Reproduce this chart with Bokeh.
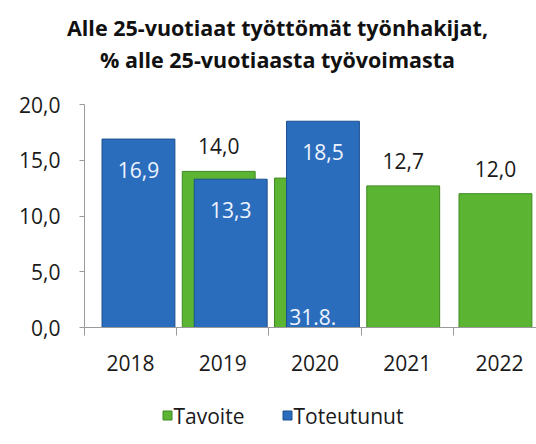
import numpy as np
from bokeh.plotting import figure
from bokeh.layouts import column
from bokeh.models import ColumnDataSource, Range1d, FixedTicker
from bokeh.core.properties import value
from bokeh.embed import file_html
from bokeh.resources import INLINE

# ---- data ----
years = ["2018", "2019", "2020", "2021", "2022"]
tavoite = [None, 14.0, 13.4, 12.7, 12.0]
toteutunut = [16.9, 13.3, 18.5, None, None]
stray_labels = ["", "", "31.8.", "", ""]
y_ticks = [0, 5, 10, 15, 20]
title_lines = ["Alle 25-vuotiaat työttömät työnhakijat,", "% alle 25-vuotiaasta työvoimasta"]
series_names = ["Tavoite", "Toteutunut"]

FONT = "Open Sans"
GREEN = "#5cb532"
GREEN_LINE = "#3e8a20"
BLUE = "#2b6dbd"
BLUE_LINE = "#1c4f8f"
AXIS = "#9a9a9a"
TXT = "#1a1a1a"
W_PX = 536
LEFT = 84

def fmt(v):
    return f"{v:.1f}".replace(".", ",")

def blank(fig):
    fig.axis.visible = False
    fig.grid.visible = False
    fig.outline_line_color = None
    return fig

# ---- title figure (page-pixel coordinates, full width frame) ----
TH = 90
tf = blank(figure(width=W_PX, height=TH, output_backend="svg", toolbar_location=None,
                  x_range=Range1d(0, W_PX), y_range=Range1d(TH, 0),
                  min_border_left=0, min_border_right=0, min_border_top=0, min_border_bottom=0))
tf.text(x=[277, 277], y=[27, 59], text=title_lines, text_align="center",
        text_baseline="alphabetic", text_font=value(FONT), text_font_style="bold",
        text_font_size="21.5px", text_color="#111111")

# ---- main chart ----
g_idx = [i for i, v in enumerate(tavoite) if v is not None]
b_idx = [i for i, v in enumerate(toteutunut) if v is not None]
G_OFF, B_OFF, W = -0.045, 0.085, 0.79

green_src = ColumnDataSource(dict(
    x=[i + G_OFF for i in g_idx],
    top=[tavoite[i] for i in g_idx],
    lab=[fmt(tavoite[i]) for i in g_idx],
))
blue_src = ColumnDataSource(dict(
    x=[i + B_OFF for i in b_idx],
    top=[toteutunut[i] for i in b_idx],
    lab=[fmt(toteutunut[i]) for i in b_idx],
))
s_idx = [i for i, s in enumerate(stray_labels) if s]
stray_src = ColumnDataSource(dict(
    x=[i + B_OFF - 0.11 for i in s_idx],
    y=[0 for _ in s_idx],
    lab=[stray_labels[i] for i in s_idx],
))

p = figure(width=W_PX, height=310, output_backend="svg", toolbar_location=None,
           x_range=Range1d(-0.5, 4.40), y_range=Range1d(0, 20),
           min_border_left=LEFT, min_border_right=0, min_border_top=14, min_border_bottom=73)
p.outline_line_color = None
p.background_fill_color = "white"
p.xgrid.visible = False
p.ygrid.visible = False

p.vbar(x="x", top="top", width=W, source=green_src, fill_color=GREEN,
       line_color=GREEN_LINE, line_width=1)
p.text(x="x", y="top", text="lab", source=green_src, text_align="center",
       text_baseline="bottom", y_offset=-17, text_font=value(FONT),
       text_font_size="21px", text_color=TXT)
p.vbar(x="x", top="top", width=W, source=blue_src, fill_color=BLUE,
       line_color=BLUE_LINE, line_width=1)
p.text(x="x", y="top", text="lab", source=blue_src, text_align="center",
       text_baseline="middle", y_offset=31, text_font=value(FONT),
       text_font_size="21px", text_color="#eef4ff")
p.text(x="x", y="y", text="lab", source=stray_src, text_align="center",
       text_baseline="middle", y_offset=-11, text_font=value(FONT),
       text_font_size="21px", text_color="#eef4ff")

p.yaxis.ticker = FixedTicker(ticks=y_ticks)
p.yaxis.major_label_overrides = {t: fmt(t) for t in y_ticks}
p.yaxis.major_tick_out = 5
p.yaxis.major_tick_in = 0
p.yaxis.minor_tick_line_color = None
p.yaxis.axis_line_color = AXIS
p.yaxis.major_tick_line_color = AXIS
p.yaxis.major_label_text_font = FONT
p.yaxis.major_label_text_font_size = "21px"
p.yaxis.major_label_text_color = TXT
p.yaxis.major_label_standoff = 19

p.xaxis.ticker = FixedTicker(ticks=list(range(len(years))),
                             minor_ticks=[i - 0.5 for i in range(len(years))])
p.xaxis.major_label_overrides = {i: y for i, y in enumerate(years)}
p.xaxis.major_tick_line_color = None
p.xaxis.minor_tick_out = 8
p.xaxis.minor_tick_in = 0
p.xaxis.minor_tick_line_color = AXIS
p.xaxis.axis_line_color = AXIS
p.xaxis.major_label_text_font = FONT
p.xaxis.major_label_text_font_size = "21px"
p.xaxis.major_label_text_color = TXT
p.xaxis.major_label_standoff = 19

# ---- legend figure (page-pixel coordinates) ----
LY0, LH = 400, 44
lf = blank(figure(width=W_PX, height=LH, output_backend="svg", toolbar_location=None,
                  x_range=Range1d(LEFT, W_PX), y_range=Range1d(LY0 + LH, LY0),
                  min_border_left=LEFT, min_border_right=0, min_border_top=0, min_border_bottom=0))
leg_x = [167, 287]
lf.scatter(x=leg_x, y=[415, 415], marker="square", size=9,
           fill_color=[GREEN, BLUE], line_color=[GREEN_LINE, BLUE_LINE])
lf.text(x=[x + 6 for x in leg_x], y=[415, 415], text=series_names,
        text_align="left", text_baseline="middle", text_font=value(FONT),
        text_font_size="21px", text_color=TXT)

layout = column(tf, column(p, lf, spacing=0), spacing=0)
open("out.html", "w").write(file_html(layout, INLINE))
